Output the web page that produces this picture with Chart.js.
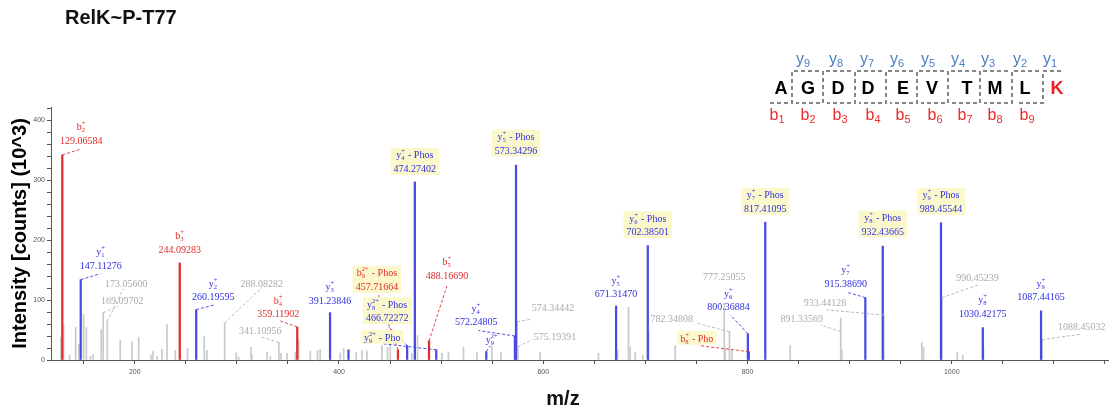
<!DOCTYPE html>
<html><head><meta charset="utf-8">
<script src="https://cdn.jsdelivr.net/npm/chart.js@4.4.1/dist/chart.umd.min.js"></script>
<style>
html,body{margin:0;padding:0;background:#fff;}
#wrap{position:relative;width:1115px;height:414px;overflow:hidden;background:#fff;}
canvas{position:absolute;left:0;top:0;}
svg{position:absolute;left:0;top:0;pointer-events:none;}
</style></head><body>
<div id="wrap"><canvas id="c" width="1115" height="414"></canvas><svg id="ov" width="1115" height="414" xmlns="http://www.w3.org/2000/svg"></svg></div>
<script>
// ---------------- DATA ----------------
const chartTitle = 'RelK~P-T77';
const xAxisTitle = 'm/z';
const yAxisTitle = 'Intensity [counts] (10^3)';

// y-type fragment ions (blue)
const yIonMz = [147.11276, 260.19595, 391.23846, 409.30, 466.72272, 474.27402, 495.23, 544.22, 572.24805, 573.34296, 671.31470, 702.38501, 800.36884, 817.41095, 915.38690, 932.43665, 989.45544, 1030.42175, 1087.44165];
const yIonIntensity = [134, 84, 79, 17, 24, 297, 17, 14, 40, 325, 90, 191, 44, 230, 104, 190, 229, 54, 82];
const yIonNames = ['y_1^+', 'y_2^+', 'y_3^+', '', 'y_8^{2+} - Phos', 'y_4^+ - Phos', 'y_9^{2+} - Pho', 'y_9^{2+}', 'y_4^+', 'y_5^+ - Phos', 'y_5^+', 'y_6^+ - Phos', 'y_6^+', 'y_7^+ - Phos', 'y_7^+', 'y_8^+ - Phos', 'y_9^+ - Phos', 'y_8^+', 'y_9^+'];
const yIonShowMz = [true, true, true, false, true, true, false, false, true, true, true, true, true, true, true, true, true, true, true];

// b-type fragment ions (red)
const bIonMz = [129.06584, 244.09283, 359.11902, 457.71664, 488.16690, 801.31];
const bIonIntensity = [342, 162, 55, 17, 32, 14];
const bIonNames = ['b_2^+', 'b_3^+', 'b_4^+', 'b_9^{2+} - Phos', 'b_5^+', 'b_8^+ - Pho'];
const bIonShowMz = [true, true, true, true, true, false];

// unmatched peaks with m/z label (grey)
const greyLabeledMz = [169.09702, 173.05600, 288.08282, 341.10956, 574.34442, 575.19391, 777.25055, 782.34808, 891.33569, 933.44128, 990.45239, 1088.45032];
const greyLabeledIntensity = [79, 64, 62, 29, 64, 22, 95, 47, 70, 75, 104, 34];

// unmatched, unlabeled peaks (grey)
const greyMz = [127.8, 130.3, 136.2, 142.1, 145.4, 149.9, 152.6, 156.5, 159.1, 167.2, 185.8, 197.3, 203.8, 215.9, 217.9, 221.8, 226.7, 231.6, 239.7, 251.7, 268.1, 270.7, 299.4, 301.7, 313.8, 314.8, 329.5, 332.7, 343.2, 349.1, 357.2, 360.4, 371.9, 379.0, 381.6, 401.2, 404.5, 416.9, 422.5, 427.4, 442.0, 447.5, 450.2, 471.4, 476.9, 500.8, 507.2, 521.9, 535.0, 549.7, 558.5, 597.0, 654.1, 672.7, 683.5, 685.1, 690.0, 697.5, 703.2, 729.2, 778.1, 784.7, 841.8, 892.3, 970.7, 972.3, 1005.5, 1010.8, 1031.0];
const greyIntensity = [38, 58, 8, 55, 26, 76, 54, 6, 9, 51, 33, 30, 38, 8, 15, 6, 18, 59, 16, 19, 39, 16, 12, 5, 21, 8, 13, 6, 11, 11, 13, 34, 15, 16, 18, 12, 19, 13, 16, 15, 24, 21, 27, 11, 41, 11, 13, 21, 13, 23, 13, 13, 11, 16, 88, 21, 13, 8, 46, 24, 19, 16, 24, 16, 29, 21, 13, 8, 21];

// axis ticks
const xTickValues = [150, 200, 250, 300, 350, 400, 450, 500, 550, 600, 650, 700, 750, 800, 850, 900, 950, 1000, 1050, 1100, 1150];
const xTickLabels = [200, 400, 600, 800, 1000];
const yTickValues = [0, 20, 40, 60, 80, 100, 120, 140, 160, 180, 200, 220, 240, 260, 280, 300, 320, 340, 360, 380, 400, 420];
const yTickLabels = [0, 100, 200, 300, 400];

// peptide sequence
const peptideResidues = ['A', 'G', 'D', 'D', 'E', 'V', 'T', 'M', 'L', 'K'];
const peptideYIons = [9, 8, 7, 6, 5, 4, 3, 2, 1];
const peptideBIons = [1, 2, 3, 4, 5, 6, 7, 8, 9];

// ---------------- LAYOUT (label placement, px relative to peak top) ----------------
const labelLayout = {
  'b_2^+': {dx: 19, dy: -28, conn: [19, -6]},
  'b_3^+': {dx: 0, dy: -27},
  'b_4^+': {dx: -19, dy: -27, conn: [-18, -6.5]},
  'b_9^{2+} - Phos': {dx: -21, dy: -77, conn: [-20, -56]},
  'b_5^+': {dx: 18, dy: -79, conn: [18, -55]},
  'b_8^+ - Pho': {dx: -52, dy: -13.5, conn: [-50, -6]},
  'y_1^+': {dx: 20, dy: -28, conn: [19.6, -6]},
  'y_2^+': {dx: 17, dy: -26.5, conn: [19, -5]},
  'y_3^+': {dx: 0, dy: -26},
  'y_8^{2+} - Phos': {dx: -20, dy: -41.5, conn: [-18.7, -19]},
  'y_4^+ - Phos': {dx: 0, dy: -27},
  'y_9^{2+} - Pho': {dx: -54, dy: -12.7, conn: [-52.7, -6]},
  'y_9^{2+}': {dx: 5.6, dy: -12.5, conn: [4, -6]},
  'y_4^+': {dx: -38.7, dy: -28, conn: [-36.4, -5.5]},
  'y_5^+ - Phos': {dx: 0, dy: -28.5},
  'y_5^+': {dx: 0, dy: -26},
  'y_6^+ - Phos': {dx: 0, dy: -27.3},
  'y_6^+': {dx: -19.4, dy: -40.5, conn: [-17.7, -18.8]},
  'y_7^+ - Phos': {dx: 0, dy: -27.3},
  'y_7^+': {dx: -19.5, dy: -27.8, conn: [-17, -5]},
  'y_8^+ - Phos': {dx: 0, dy: -28.5},
  'y_9^+ - Phos': {dx: 0, dy: -27.8},
  'y_8^+': {dx: 0, dy: -27.8},
  'y_9^+': {dx: 0, dy: -27.7}
};
const greyLabelLayout = {
  '169.09702': {dx: 19, dy: -12, conn: [15, -6]},
  '173.05600': {dx: 19, dy: -38.5, conn: [16, -33]},
  '288.08282': {dx: 37, dy: -39.7, conn: [37, -35]},
  '341.10956': {dx: -18.6, dy: -12, conn: [-18.6, -6]},
  '574.34442': {dx: 36, dy: -14, conn: [15, -2.5]},
  '575.19391': {dx: 37, dy: -10, conn: [14, -7]},
  '777.25055': {dx: 0, dy: -26.5},
  '782.34808': {dx: -57.6, dy: -13.7, conn: [-32.6, -8.7]},
  '891.33569': {dx: -39, dy: 0, conn: [-20, 7, 0, 13.5]},
  '933.44128': {dx: -58.7, dy: -12.5, conn: [-57, -5.2]},
  '990.45239': {dx: 35.4, dy: -20.5, conn: [36.4, -12.8]},
  '1088.45032': {dx: 39.7, dy: -13, conn: [39.7, -5.5]}
};

const COLORS = {
  yLine: '#4b4be2', bLine: '#e32e2e', greyLine: '#cbcbcb',
  yText: '#2f2fe2', bText: '#e02a2a', greyText: '#ababab',
  yConn: 'rgba(60,60,225,0.9)', bConn: 'rgba(226,50,50,0.9)', greyConn: '#b8b8b8',
  box: '#fbf9cc'
};

// ---------------- LABEL PLUGIN ----------------
const MAIN_FONT = '10px "Liberation Serif", "DejaVu Serif", serif';
const SMALL_FONT = '6.5px "Liberation Serif", "DejaVu Serif", serif';
function parseName(s) {
  const m = s.match(/^([a-z])_(\d+)\^(\{[^}]*\}|.)(.*)$/);
  if (!m) return null;
  return {base: m[1], sub: m[2], sup: m[3].replace(/[{}]/g, ''), rest: m[4]};
}
function lineWidth(ctx, line) {
  if (typeof line === 'string') { ctx.font = MAIN_FONT; return ctx.measureText(line).width; }
  ctx.font = MAIN_FONT;
  const wb = ctx.measureText(line.base).width, wr = ctx.measureText(line.rest).width;
  ctx.font = SMALL_FONT;
  const ws = Math.max(ctx.measureText(line.sub).width, ctx.measureText(line.sup).width);
  return wb + ws + 0.5 + wr;
}
function drawLine(ctx, line, cx, cy) {
  const w = lineWidth(ctx, line);
  let x = cx - w / 2;
  const base = cy + 3.5;
  ctx.textAlign = 'left'; ctx.textBaseline = 'alphabetic';
  if (typeof line === 'string') { ctx.font = MAIN_FONT; ctx.fillText(line, x, base); return; }
  ctx.font = MAIN_FONT; ctx.fillText(line.base, x, base); x += ctx.measureText(line.base).width;
  ctx.font = SMALL_FONT;
  ctx.fillText(line.sub, x, base + 2); ctx.fillText(line.sup, x, base - 5);
  x += Math.max(ctx.measureText(line.sub).width, ctx.measureText(line.sup).width) + 0.5;
  ctx.font = MAIN_FONT; ctx.fillText(line.rest, x, base);
}

const labelPlugin = {
  id: 'peakLabels',
  afterDatasetsDraw(chart) {
    const ctx = chart.ctx, xs = chart.scales.x, ys = chart.scales.y;
    const items = [];
    const addGroup = (mzs, hs, names, shows, type) => {
      mzs.forEach((mz, i) => {
        const name = names ? names[i] : null;
        if (names && !name) return;
        const key = names ? name : mz.toFixed(5);
        const lay = names ? labelLayout[key] : greyLabelLayout[key];
        if (!lay) return;
        const lines = [];
        if (names) { lines.push(parseName(name)); if (shows[i]) lines.push(mz.toFixed(5)); }
        else lines.push(mz.toFixed(5));
        items.push({px: xs.getPixelForValue(mz), py: ys.getPixelForValue(hs[i]), lines, lay, type,
          box: !!(names && /Pho/.test(name))});
      });
    };
    addGroup(greyLabeledMz, greyLabeledIntensity, null, null, 'grey');
    addGroup(bIonMz, bIonIntensity, bIonNames, bIonShowMz, 'b');
    addGroup(yIonMz, yIonIntensity, yIonNames, yIonShowMz, 'y');
    ctx.save();
    items.forEach(it => {
      const c = it.lay.conn; if (!c) return;
      ctx.strokeStyle = COLORS[it.type + 'Conn'];
      ctx.lineWidth = 1; ctx.setLineDash([3, 2]);
      ctx.beginPath();
      ctx.moveTo(it.px + (c[2] || 0), it.py + (c[3] || 0));
      ctx.lineTo(it.px + c[0], it.py + c[1]);
      ctx.stroke();
    });
    ctx.setLineDash([]);
    items.forEach(it => {
      const cx = it.px + it.lay.dx, cy = it.py + it.lay.dy;
      if (it.box) {
        const w = Math.max(...it.lines.map(l => lineWidth(ctx, l)));
        ctx.fillStyle = COLORS.box;
        ctx.fillRect(cx - w / 2 - 3, cy - 7, w + 6, (it.lines.length - 1) * 13.5 + 13.5);
      }
      ctx.fillStyle = COLORS[it.type + 'Text'];
      it.lines.forEach((l, k) => drawLine(ctx, l, cx, cy + k * 13.5));
    });
    ctx.restore();
  }
};

// ---------------- CHART ----------------
const pts = (mz, h) => mz.map((x, i) => ({x, y: h[i]}));
new Chart(document.getElementById('c'), {
  type: 'bar',
  data: {
    datasets: [
      {label: 'y ions', data: pts(yIonMz, yIonIntensity), backgroundColor: COLORS.yLine, barThickness: 1.6, grouped: false, order: 1},
      {label: 'b ions', data: pts(bIonMz, bIonIntensity), backgroundColor: COLORS.bLine, barThickness: 1.6, grouped: false, order: 2},
      {label: 'other', data: pts(greyLabeledMz.concat(greyMz), greyLabeledIntensity.concat(greyIntensity)), backgroundColor: COLORS.greyLine, barThickness: 1.1, grouped: false, order: 3}
    ]
  },
  options: {
    responsive: false, animation: false, devicePixelRatio: 1,
    layout: {padding: {top: 107, right: 7, left: 0, bottom: 0}},
    plugins: {legend: {display: false}, tooltip: {enabled: false}},
    scales: {
      x: {
        type: 'linear', min: 118, max: 1153, offset: false,
        grid: {drawOnChartArea: false, offset: false, tickLength: 4, color: '#555'},
        border: {color: '#555', width: 1},
        afterBuildTicks: s => { s.ticks = xTickValues.map(v => ({value: v})); },
        ticks: {autoSkip: false, maxRotation: 0, padding: 4, color: '#555', font: {size: 7, family: '"Liberation Sans", Arial'},
          callback: v => xTickLabels.includes(v) ? String(v) : ''},
        title: {display: false},
        afterFit: s => { s.height = 54; }
      },
      y: {
        type: 'linear', min: 0, max: 422,
        grid: {drawOnChartArea: false, tickLength: 4, color: '#555'},
        border: {color: '#555', width: 1},
        afterBuildTicks: s => { s.ticks = yTickValues.map(v => ({value: v})); },
        ticks: {autoSkip: false, padding: 2, color: '#555', font: {size: 7, family: '"Liberation Sans", Arial'},
          callback: v => yTickLabels.includes(v) ? String(v) : ''},
        title: {display: true, text: yAxisTitle, color: '#000', padding: {top: 8, bottom: 0},
          font: {size: 20, weight: 'bold', family: '"Liberation Sans", Arial'}},
        afterFit: s => { s.width = 51; }
      }
    }
  },
  plugins: [labelPlugin]
});

// ---------------- OVERLAY: title, x title, peptide diagram ----------------
const NS = 'http://www.w3.org/2000/svg';
const svg = document.getElementById('ov');
function el(tag, attrs, parent) { const e = document.createElementNS(NS, tag); for (const k in attrs) e.setAttribute(k, attrs[k]); (parent || svg).appendChild(e); return e; }
function txt(str, attrs) { const t = el('text', attrs); t.textContent = str; return t; }
txt(chartTitle, {x: 65, y: 23.5, 'font-family': 'Liberation Sans, Arial', 'font-weight': 'bold', 'font-size': 20, fill: '#111'});
txt(xAxisTitle, {x: 563, y: 405, 'text-anchor': 'middle', 'font-family': 'Liberation Sans, Arial', 'font-weight': 'bold', 'font-size': 20, fill: '#111'});

const residueX = [781, 808, 838, 868, 903, 932, 967, 995, 1025, 1057];
const cleaveX = [792, 823, 855, 886, 917, 948, 980, 1012, 1043];
const yLabelX = [803, 836, 867, 897, 928, 958, 988, 1020, 1050];
const bLabelX = [777, 808, 840, 873, 903, 935, 965, 995, 1027];
const dashAttrs = {stroke: '#858585', 'stroke-width': 2, 'stroke-dasharray': '4,3', fill: 'none'};
cleaveX.forEach((cx, i) => {
  const nextX = i < cleaveX.length - 1 ? cleaveX[i + 1] - 4 : 1061;
  const prevX = i > 0 ? cleaveX[i - 1] + 4 : 770;
  el('polyline', Object.assign({points: `${nextX},71 ${cx},71 ${cx},103 ${prevX},103`}, dashAttrs));
});
peptideResidues.forEach((r, i) => {
  txt(r, {x: residueX[i], y: 93.5, 'text-anchor': 'middle', 'font-family': 'Liberation Sans, Arial', 'font-weight': 'bold', 'font-size': 18,
    fill: i === peptideResidues.length - 1 ? '#ee1c24' : '#000'});
});
function ionLabel(letter, n, x, y, color) {
  const t = el('text', {x, y, 'text-anchor': 'middle', 'font-family': 'Liberation Sans, Arial', 'font-size': 16, fill: color});
  const a = el('tspan', {}, t); a.textContent = letter;
  const b = el('tspan', {dy: 3, 'font-size': 11}, t); b.textContent = String(n);
}
peptideYIons.forEach((n, i) => ionLabel('y', n, yLabelX[i], 63.5, '#4a7fc1'));
peptideBIons.forEach((n, i) => ionLabel('b', n, bLabelX[i], 120, '#ee2a2a'));
</script></body></html>
